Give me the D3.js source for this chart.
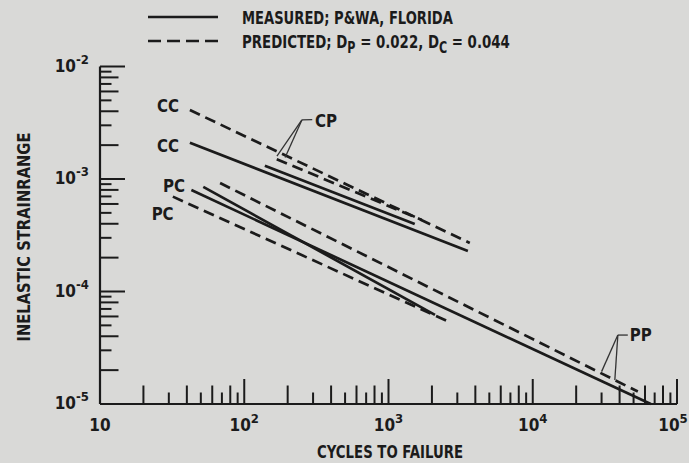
<!DOCTYPE html>
<html>
<head>
<meta charset="utf-8">
<script src="https://cdn.jsdelivr.net/npm/d3@7"></script>
<style>
  html, body { margin: 0; padding: 0; background: #d9d9d7; }
  svg { display: block; }
  text { font-family: "DejaVu Sans Condensed", "DejaVu Sans", sans-serif; font-stretch: condensed; font-weight: bold; fill: #1b1b1b; }
</style>
</head>
<body>
<svg id="chart" width="689" height="463"></svg>
<script>
// Inelastic strainrange vs. cycles to failure, log-log, [cycles, strainrange]
const ccMeasured  = [[42, 2.10e-3], [3550, 2.29e-4]];
const ccPredicted = [[42, 4.10e-3], [3660, 2.70e-4]];
const cpMeasured  = [[139, 1.31e-3], [1520, 3.98e-4]];
const cpPredicted = [[168, 1.50e-3], [1700, 4.33e-4]];
const pcMeasured  = [[52, 8.5e-4], [2100, 6.2e-5]];
const pcPredicted = [[32, 6.97e-4], [2600, 5.4e-5]];
const ppMeasured  = [[43, 7.98e-4], [65800, 1.0e-5]];
const ppPredicted = [[68, 9.2e-4], [53500, 1.29e-5]];

const xDecades = [10, 100, 1000, 10000, 100000];
const xDecadeExp = ["", "2", "3", "4", "5"];
const yDecades = [1e-2, 1e-3, 1e-4, 1e-5];
const yDecadeExp = ["-2", "-3", "-4", "-5"];
const multipliers = [2, 3, 4, 5, 6, 7, 8, 9];

const legendMeasured = ["MEASURED; P&WA, FLORIDA"];
const legendPredicted = ["PREDICTED; D", "P", " = 0.022, D", "C", " = 0.044"];

const svg = d3.select("#chart");
const x = d3.scaleLog().domain([10, 1e5]).range([100, 677]);
const y = d3.scaleLog().domain([1e-5, 1e-2]).range([404, 66.5]);

const ink = "#1b1b1b";
const dash = "11,6";

// axes frame
svg.append("line").attr("x1", x(10)).attr("x2", x(1e5)).attr("y1", y(1e-5)).attr("y2", y(1e-5))
  .attr("stroke", ink).attr("stroke-width", 2.2);
svg.append("line").attr("x1", x(10)).attr("x2", x(10)).attr("y1", y(1e-5)).attr("y2", y(1e-2))
  .attr("stroke", ink).attr("stroke-width", 2.2);

// tick lists: decades long, even multiples medium, odd ones short
function tickLen(m) { return m === 1 ? 25 : (m % 2 === 0 ? 18.5 : 11.5); }
const xTicks = [];
xDecades.forEach((d, i) => {
  if (i > 0) xTicks.push({ v: d, m: 1 });
  if (i < xDecades.length - 1) multipliers.forEach(m => xTicks.push({ v: d * m, m }));
});
const yTicks = [];
yDecades.forEach((d, i) => {
  if (i < yDecades.length - 1) yTicks.push({ v: d, m: 1 });
  if (i > 0) multipliers.forEach(m => yTicks.push({ v: d * m, m }));
});

svg.append("g").selectAll("line").data(xTicks).join("line")
  .attr("x1", d => x(d.v)).attr("x2", d => x(d.v))
  .attr("y1", y(1e-5)).attr("y2", d => y(1e-5) - tickLen(d.m))
  .attr("stroke", ink).attr("stroke-width", 2);
svg.append("g").selectAll("line").data(yTicks).join("line")
  .attr("y1", d => y(d.v)).attr("y2", d => y(d.v))
  .attr("x1", x(10)).attr("x2", d => x(10) + tickLen(d.m))
  .attr("stroke", ink).attr("stroke-width", 2);

// decade labels
const xl = svg.append("g").selectAll("text").data(xDecades).join("text")
  .attr("x", (d, i) => x(d) - (i === xDecades.length - 1 ? 4 : 0)).attr("y", 431)
  .attr("text-anchor", "middle")
  .style("font-size", "17px");
xl.append("tspan").text("10");
xl.append("tspan").attr("dy", -8).style("font-size", "13px").text((d, i) => xDecadeExp[i]);

const yl = svg.append("g").selectAll("text").data(yDecades).join("text")
  .attr("x", 89).attr("y", d => y(d) + 5).attr("text-anchor", "end")
  .style("font-size", "17px");
yl.append("tspan").text("10");
yl.append("tspan").attr("dy", -8).style("font-size", "13px").text((d, i) => yDecadeExp[i]);

// axis titles
svg.append("text").attr("x", 390).attr("y", 458).attr("text-anchor", "middle")
  .style("font-size", "18px").attr("textLength", 146).attr("lengthAdjust", "spacingAndGlyphs")
  .text("CYCLES TO FAILURE");
svg.append("text").attr("transform", "translate(30,237) rotate(-90)").attr("text-anchor", "middle")
  .style("font-size", "18px").attr("textLength", 209).attr("lengthAdjust", "spacingAndGlyphs")
  .text("INELASTIC STRAINRANGE");

// strainrange lines
const line = d3.line().x(d => x(d[0])).y(d => y(d[1]));
const series = [
  { data: ccPredicted, dashed: true },
  { data: ccMeasured,  dashed: false },
  { data: cpPredicted, dashed: true },
  { data: cpMeasured,  dashed: false },
  { data: pcPredicted, dashed: true },
  { data: pcMeasured,  dashed: false },
  { data: ppPredicted, dashed: true },
  { data: ppMeasured,  dashed: false }
];
svg.append("g").selectAll("path").data(series).join("path")
  .attr("d", d => line(d.data))
  .attr("fill", "none").attr("stroke", ink).attr("stroke-width", 2.7)
  .attr("stroke-dasharray", d => d.dashed ? dash : null);

// curve labels
const curveLabels = [
  { t: "CC", at: [24.8, 3.94e-3] },
  { t: "CC", at: [24.8, 1.74e-3] },
  { t: "PC", at: [27.3, 7.74e-4] },
  { t: "PC", at: [22.8, 4.33e-4] },
  { t: "CP", at: [309, 2.9e-3] },
  { t: "PP", at: [47100, 3.63e-5] }
];
svg.append("g").selectAll("text").data(curveLabels).join("text")
  .attr("x", d => x(d.at[0])).attr("y", d => y(d.at[1]))
  .style("font-size", "18px").attr("textLength", 22).attr("lengthAdjust", "spacingAndGlyphs")
  .text(d => d.t);

// leaders from the CP and PP labels to their curves
const leaders = [
  { from: [296, 3.37e-3], bend: [251, 3.35e-3], to: [[168.5, 1.60e-3], [192, 1.55e-3]] },
  { from: [45600, 4.1e-5], bend: [38900, 4.1e-5], to: [[30000, 1.94e-5], [37070, 1.63e-5]] }
];
const lg = svg.append("g").attr("stroke", "#333").attr("stroke-width", 1.3).attr("fill", "none");
leaders.forEach(l => {
  lg.append("line").attr("x1", x(l.from[0])).attr("y1", y(l.from[1]))
    .attr("x2", x(l.bend[0])).attr("y2", y(l.bend[1]));
  l.to.forEach(p => lg.append("line").attr("x1", x(l.bend[0])).attr("y1", y(l.bend[1]))
    .attr("x2", x(p[0])).attr("y2", y(p[1])));
});

// legend: sample strokes and rows; rows are squeezed horizontally to their span
const leg = svg.append("g");
leg.append("line").attr("x1", 148).attr("x2", 218).attr("y1", 17).attr("y2", 17)
  .attr("stroke", ink).attr("stroke-width", 2.7);
leg.append("line").attr("x1", 148).attr("x2", 218).attr("y1", 41).attr("y2", 41)
  .attr("stroke", ink).attr("stroke-width", 2.7).attr("stroke-dasharray", "13,6");

function legendRow(pieces, baseY, span) {
  const g = leg.append("g");
  const t = g.append("text").attr("x", 0).attr("y", 0);
  pieces.forEach((s, i) => {
    const sub = i % 2 === 1;
    t.append("tspan").attr("dy", i === 0 ? 0 : (sub ? 5 : -5))
      .style("font-size", sub ? "15px" : "18px").text(s);
  });
  const w = t.node().getComputedTextLength();
  g.attr("transform", `translate(242,${baseY}) scale(${span / w},1)`);
}
legendRow(legendMeasured, 24, 211);
legendRow(legendPredicted, 48, 268);
</script>
</body>
</html>
